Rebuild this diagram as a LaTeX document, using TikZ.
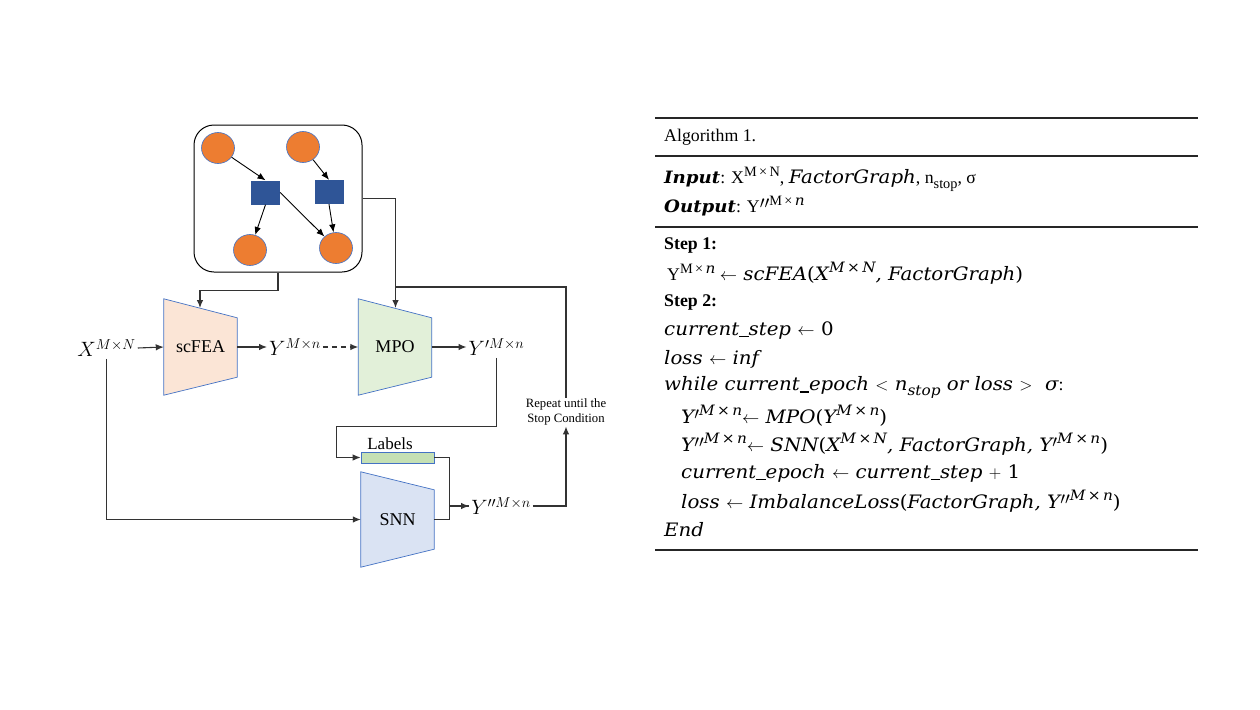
\documentclass[tikz,border=0pt]{standalone}
\usepackage{fontspec}
\setmainfont{Liberation Serif}
\newfontfamily\cam[FakeStretch=1.07]{DejaVu Serif}
\newcommand\mm[1]{{\fontsize{18.5}{21}\selectfont\cam\itshape #1}}
\newcommand\mb[1]{{\fontsize{17}{21}\selectfont\cam\bfseries\itshape #1}}
\newcommand\mi[1]{{\cam\itshape #1}}
\newcommand\sups[1]{\raisebox{0.42em}{\fontsize{14.3}{15}\selectfont #1}}
\newcommand\subs[1]{\raisebox{-0.25em}{\fontsize{14.3}{15}\selectfont #1}}
\newcommand\tms{\,{\upshape ×}\,}
\newcommand\us{\rule[-0.1em]{0.5em}{0.07em}}
\newcommand\pr{\raisebox{0.22em}{\fontsize{17}{17}\selectfont$\prime$}}
\newcommand\ppr{\raisebox{0.22em}{\fontsize{17}{17}\selectfont$\prime\prime$}}
\usetikzlibrary{arrows.meta,calc,shapes.geometric}
\definecolor{orng}{HTML}{ED7D31}
\definecolor{sqblue}{HTML}{2F5597}
\definecolor{bordblue}{HTML}{4472C4}
\definecolor{fillA}{HTML}{FBE5D6}
\definecolor{fillB}{HTML}{E2F0D9}
\definecolor{fillC}{HTML}{DAE3F3}
\definecolor{fillL}{HTML}{C5E0B4}
\definecolor{lgray}{HTML}{333333}
\begin{document}
\begin{tikzpicture}[x=1pt,y=-1pt,
  ell/.style={ellipse, draw=bordblue, line width=0.6pt, fill=orng, minimum width=33, minimum height=31, inner sep=0},
  sq/.style={rectangle, fill=sqblue, minimum width=29, minimum height=24, inner sep=0},
  conn/.style={draw=lgray, line width=1.1pt},
  arr/.style={conn, -{Latex[length=8pt,width=6.5pt]}},
  garr/.style={draw=black, line width=0.9pt, -{Latex[length=8pt,width=6.5pt]}},
  blk/.style={minimum width=73, minimum height=96, inner sep=0, font=\rmfamily\fontsize{18}{20}\selectfont},
  trap/.style={draw=bordblue, line width=0.7pt},
  mth/.style={inner sep=2pt, font=\fontsize{21}{23}\selectfont},
  alg/.style={anchor=west, inner sep=0, font=\rmfamily\fontsize{17.8}{21}\selectfont},
  rule/.style={line width=1.3pt, draw=black!85},
  smalltxt/.style={align=center, font=\rmfamily\fontsize{12.7}{15}\selectfont, inner sep=1pt}
]
\useasboundingbox (0,0) rectangle (1260,709);
\fill[white] (0,0) rectangle (1260,709);

% ---------- factor graph box ----------
\node[draw=black, line width=1pt, rounded corners=20, minimum width=168, minimum height=147] (fg) at (278,198.5) {};
\node[ell] (e1) at (218,148) {};
\node[ell] (e2) at (303,147) {};
\node[ell] (e3) at (250,250) {};
\node[ell] (e4) at (336,248) {};
\node[sq] (s1) at (265.5,192.5) {};
\node[sq] (s2) at (329,192) {};
\draw[garr] (e1) -- (s1.north);
\draw[garr] (e2) -- (s2.north);
\draw[garr] (s1.south) -- (e3);
\draw[garr] (s1.east) -- (e4);
\draw[garr] (s2.south) -- (e4);

% ---------- blocks ----------
\node[blk] (scfea) at (200.5,347) {};
\draw[trap, fill=fillA] (scfea.north west) -- ($(scfea.north east)+(0,19)$) -- ($(scfea.south east)+(0,-18)$) -- (scfea.south west) -- cycle;
\node[blk] at (scfea) {scFEA};

\node[blk] (mpo) at (395,347) {};
\draw[trap, fill=fillB] (mpo.north west) -- ($(mpo.north east)+(0,19)$) -- ($(mpo.south east)+(0,-18)$) -- (mpo.south west) -- cycle;
\node[blk] at (mpo) {MPO};

\node[blk, minimum height=95] (snn) at (397.5,519.5) {};
\draw[trap, fill=fillC] (snn.north west) -- ($(snn.north east)+(0,18)$) -- ($(snn.south east)+(0,-18)$) -- (snn.south west) -- cycle;
\node[blk] at (snn) {SNN};

\node[draw=bordblue, line width=0.7pt, fill=fillL, minimum width=73, minimum height=11, inner sep=0] (labels) at (397.5,457.5) {};
\node[inner sep=0, font=\rmfamily\fontsize{17}{18}\selectfont] (labtxt) at (390,444) {Labels};

% ---------- math labels ----------
\node[mth] (x) at (106.5,348) {$X^{M\times N}$};
\node[mth] (y) at (295,347) {$Y^{M\times n}$};
\node[mth] (yp) at (496.5,347) {$Y'^{M\times n}$};
\node[mth] (ypp) at (501,506) {$Y''^{M\times n}$};
\node[smalltxt] (rep) at (566,412) {Repeat until the\\Stop Condition};

\coordinate (scin) at (200,308);
\coordinate (mpoin) at (395.5,308);

% ---------- connectors ----------
\draw[arr] (fg.south) -- ++(0,18) -| (scin);
\draw[arr] (fg.east) -| (mpoin);
\draw[conn] (rep.north) |- ($(mpoin)+(0,-21)$);
\draw[arr] (x.east) -- (scfea.west);
\draw[arr] (scfea.east) -- (y.west);
\draw[arr, dashed, dash pattern=on 5pt off 4pt] (y.east) -- (mpo.west);
\draw[arr] (mpo.east) -- (yp.west);
\draw[arr] (yp.south) -- ++(0,69) -| ($(labels.west)+(-24,0)$) -- (labels.west);
\draw[conn] (labels.east) -- ++(15,0) |- (ypp.west);
\draw[conn] (snn.east) -| ($(labels.east)+(15,0)$);
\draw[arr] ($(labels.east)+(15,48.5)$) -- (ypp.west);
\draw[arr] (x.south) |- (snn.west);
\draw[arr] (ypp.east) -| (rep.south);

% ---------- algorithm ----------
\draw[rule] (655,118) coordinate (r1) -- (1198,118);
\draw[rule] (655,156) coordinate (r2) -- (1198,156);
\draw[rule] (655,227) coordinate (r3) -- (1198,227);
\draw[rule] (655,550) coordinate (r4) -- (1198,550);

\node[alg] (a0) at (664,137) {Algorithm 1.};
\node[alg] (a1) at (664,179) {\mb{Input}: X\sups{M\tms N}, \mm{FactorGraph}, n\subs{stop}, σ};
\node[alg] (a2) at (664,206) {\mb{Output}: Y\ppr\sups{M\tms\mi{n}}};
\node[alg] (a3) at (664,245) {\textbf{Step 1:}};
\node[alg] (a4) at (667,273.5) {Y\sups{M\tms\mi{n}} \mm{$\leftarrow$ scFEA{\upshape(}X\sups{M\tms N}, FactorGraph{\upshape)}}};
\node[alg] (a5) at (664,302) {\textbf{Step 2:}};
\node[alg] (a6) at (664,330.5) {\mm{current\us step $\leftarrow$ {\upshape 0}}};
\node[alg] (a7) at (664,359) {\mm{loss $\leftarrow$ inf}};
\node[alg] (a8) at (664,387.5) {\mm{while current\us epoch $<$ n\subs{stop} or loss $>$\ \ σ}:};
\node[alg] (a9) at (681,416) {\mm{Y\pr\sups{M\tms n}$\leftarrow$ MPO{\upshape(}Y\sups{M\tms n}{\upshape)}}};
\node[alg] (a10) at (681,444.5) {\mm{Y\ppr\sups{M\tms n}$\leftarrow$ SNN{\upshape(}X\sups{M\tms N}, FactorGraph, Y\pr\sups{M\tms n}{\upshape)}}};
\node[alg] (a11) at (681,473) {\mm{current\us epoch $\leftarrow$ current\us step $+$ {\upshape 1}}};
\node[alg] (a12) at (681,501.5) {\mm{loss $\leftarrow$ ImbalanceLoss{\upshape(}FactorGraph, Y\ppr\sups{M\tms n}{\upshape)}}};
\node[alg] (a13) at (664,530) {\mm{End}};
\end{tikzpicture}
\end{document}
